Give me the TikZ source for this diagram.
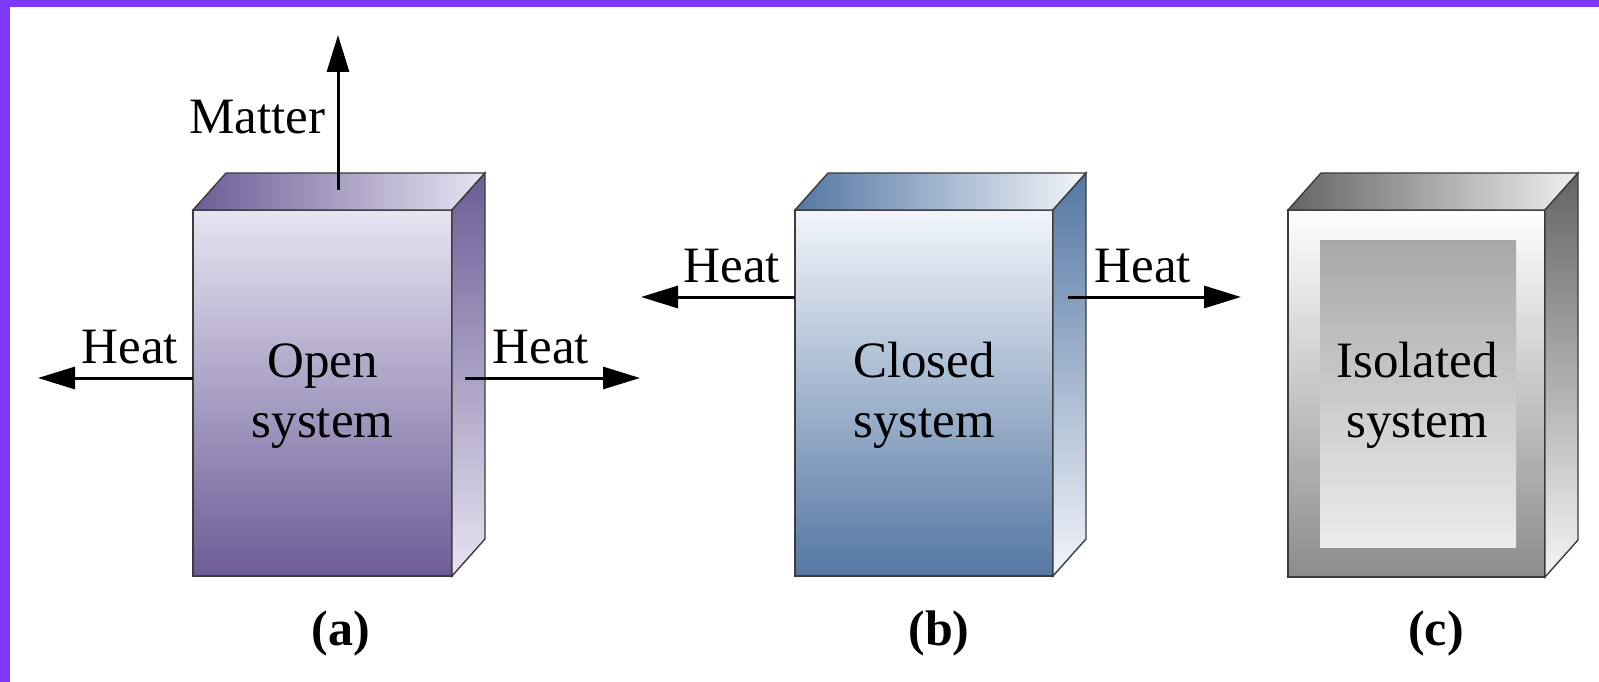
\documentclass[tikz,border=0pt]{standalone}
\usepackage{fontspec}
\setmainfont{Liberation Serif}
\usetikzlibrary{arrows.meta}
\definecolor{bordr}{RGB}{125,58,252}
\definecolor{edgec}{RGB}{60,60,60}
\definecolor{aDark}{RGB}{108,92,150}
\definecolor{aLight}{RGB}{232,228,242}
\definecolor{bDark}{RGB}{84,119,162}
\definecolor{bLight}{RGB}{242,245,251}
\definecolor{cDark}{RGB}{100,100,100}
\definecolor{cMid}{RGB}{140,140,140}
\definecolor{cIn}{RGB}{168,168,168}
\definecolor{cInL}{RGB}{236,236,236}
\begin{document}
\begin{tikzpicture}[x=1pt,y=-1pt,
  edge/.style={draw=edgec,line width=1.4pt,line join=miter},
  flow/.style={line width=3pt,-{Triangle[length=37pt,width=22pt]}},
  lbl/.style={font=\fontsize{51}{60}\selectfont,inner sep=0pt,anchor=base},
  sys/.style={font=\fontsize{51}{60}\selectfont,inner sep=0pt,align=center,anchor=base},
  tag/.style={font=\fontsize{50}{60}\selectfont\bfseries,inner sep=0pt,anchor=base}]
\useasboundingbox (0,0) rectangle (1599,682);
\fill[white] (0,0) rectangle (1599,682);
\fill[bordr] (0,0) rectangle (1599,7);
\fill[bordr] (0,0) rectangle (10,682);

% ---------- (a) open system ----------
\path[edge, top color=aLight, bottom color=aDark] (193,210) rectangle (452,576);
\path[edge, left color=aDark, right color=aLight] (193,210) -- (226,173) -- (485,173) -- (452,210) -- cycle;
\path[edge, top color=aDark, bottom color=aLight] (452,210) -- (485,173) -- (485,539) -- (452,576) -- cycle;
\node[sys] (aText) at (322.5,437) {Open\\system};
\coordinate (aTop) at (338,190);
\coordinate (aTopT) at (338,35);
\coordinate (aL) at (193,378);
\coordinate (aLT) at (38,378);
\coordinate (aR) at (465,378);
\coordinate (aRT) at (640,378);
\draw[flow] (aTop) -- (aTopT);
\draw[flow] (aL) -- (aLT);
\draw[flow] (aR) -- (aRT);
\node[lbl] (matter) at (257,134) {Matter};
\node[lbl] (aHL) at (130,363) {Heat};
\node[lbl] (aHR) at (541,363) {Heat};
\node[tag] (tagA) at (341,645) {(a)};

% ---------- (b) closed system ----------
\path[edge, top color=bLight, bottom color=bDark] (795,210) rectangle (1053,576);
\path[edge, left color=bDark, right color=bLight] (795,210) -- (828,173) -- (1086,173) -- (1053,210) -- cycle;
\path[edge, top color=bDark, bottom color=bLight] (1053,210) -- (1086,173) -- (1086,539) -- (1053,576) -- cycle;
\node[sys] (bText) at (924,437) {Closed\\system};
\coordinate (bL) at (795,297);
\coordinate (bLT) at (641,297);
\coordinate (bR) at (1068,297);
\coordinate (bRT) at (1241,297);
\draw[flow] (bL) -- (bLT);
\draw[flow] (bR) -- (bRT);
\node[lbl] (bHL) at (732,282) {Heat};
\node[lbl] (bHR) at (1143,282) {Heat};
\node[tag] (tagB) at (939,645) {(b)};

% ---------- (c) isolated system ----------
\path[edge, top color=white, bottom color=cMid] (1288,210) rectangle (1545,577);
\path[edge, left color=cDark, right color=white!94!black] (1288,210) -- (1321,173) -- (1578,173) -- (1545,210) -- cycle;
\path[edge, top color=cDark, bottom color=white!96!black] (1545,210) -- (1578,173) -- (1578,540) -- (1545,577) -- cycle;
\path[top color=cIn, bottom color=cInL] (1320,240) rectangle (1516,547);
\node[sys] (cText) at (1417,437) {Isolated\\system};
\node[tag] (tagC) at (1436,645) {(c)};
\end{tikzpicture}
\end{document}
